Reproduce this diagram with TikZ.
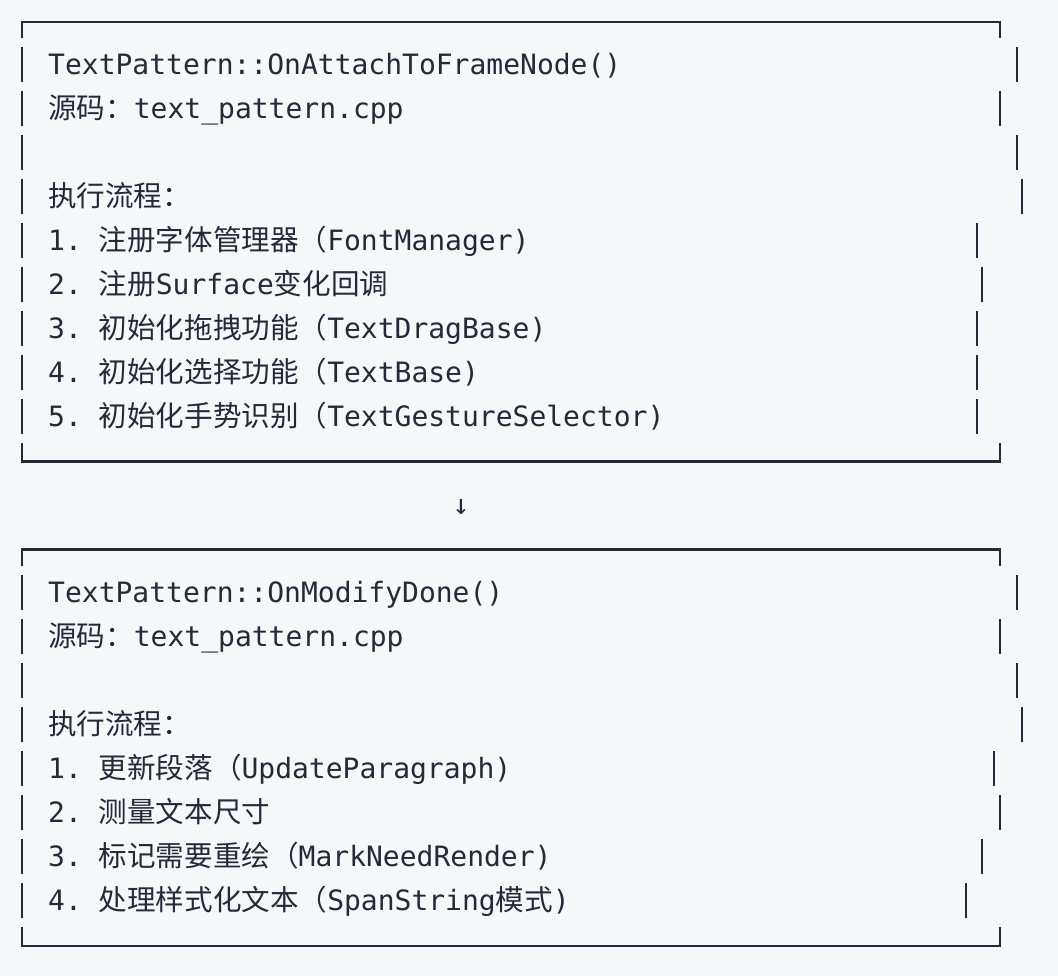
\documentclass[tikz,border=0pt]{standalone}
\usepackage{fontspec}
\setmonofont{DejaVu Sans Mono}
\newfontfamily\cjkfont[Scale=1.02]{Noto Sans CJK SC}
\newcommand\zh[1]{{\cjkfont#1}}
\definecolor{bg}{HTML}{F5F7F9}
\definecolor{ink}{HTML}{242A37}
\tikzset{
  txt/.style={anchor=base west, inner sep=0pt, text=ink, font=\ttfamily\fontsize{28}{34}\selectfont},
  boxline/.style={draw=ink, line width=2.3pt},
}
\begin{document}
\begin{tikzpicture}[x=1pt,y=-1pt]
\fill[bg] (0,0) rectangle (1058,976);
\useasboundingbox (0,0) rectangle (1058,976);

% ---------- box 1 ----------
\draw[boxline] (22,38) -- (22,22) -- (1000,22) -- (1000,38);
\draw[boxline] (22,443) -- (22,461.5) -- (1000,461.5) -- (1000,443);
\foreach \x [count=\k] in {1017,1000,1017,1022,976.7,982.3,976.7,976.7,976.7} {
  \pgfmathsetmacro\c{64.5+44*(\k-1)}
  \draw[boxline] (22,\c-17.5) -- (22,\c+17.5);
  \draw[boxline] (\x,\c-17.5) -- (\x,\c+17.5);
}
\node[txt] (a1) at (48,74.5)  {TextPattern::OnAttachToFrameNode()};
\node[txt] (a2) at (48,118.5) {\zh{源码：}text\_pattern.cpp};
\node[txt] (a4) at (48,206.5) {\zh{执行流程：}};
\node[txt] (a5) at (48,250.5) {1. \zh{注册字体管理器（}FontManager)};
\node[txt] (a6) at (48,294.5) {2. \zh{注册}Surface\zh{变化回调}};
\node[txt] (a7) at (48,338.5) {3. \zh{初始化拖拽功能（}TextDragBase)};
\node[txt] (a8) at (48,382.5) {4. \zh{初始化选择功能（}TextBase)};
\node[txt] (a9) at (48,426.5) {5. \zh{初始化手势识别（}TextGestureSelector)};

% ---------- arrow ----------
\node[txt, anchor=base] (arr) at (461,514.5) {↓};

% ---------- box 2 ----------
\draw[boxline] (22,566) -- (22,549.5) -- (1000,549.5) -- (1000,566);
\draw[boxline] (22,927) -- (22,946) -- (1000,946) -- (1000,927);
\foreach \x [count=\k] in {1017,1000,1017,1022,994,1000,982.3,965.7} {
  \pgfmathsetmacro\c{592.5+44*(\k-1)}
  \draw[boxline] (22,\c-17.5) -- (22,\c+17.5);
  \draw[boxline] (\x,\c-17.5) -- (\x,\c+17.5);
}
\node[txt] (b1) at (48,602.5) {TextPattern::OnModifyDone()};
\node[txt] (b2) at (48,646.5) {\zh{源码：}text\_pattern.cpp};
\node[txt] (b4) at (48,734.5) {\zh{执行流程：}};
\node[txt] (b5) at (48,778.5) {1. \zh{更新段落（}UpdateParagraph)};
\node[txt] (b6) at (48,822.5) {2. \zh{测量文本尺寸}};
\node[txt] (b7) at (48,866.5) {3. \zh{标记需要重绘（}MarkNeedRender)};
\node[txt] (b8) at (48,910.5) {4. \zh{处理样式化文本（}SpanString\zh{模式})};
\end{tikzpicture}
\end{document}
